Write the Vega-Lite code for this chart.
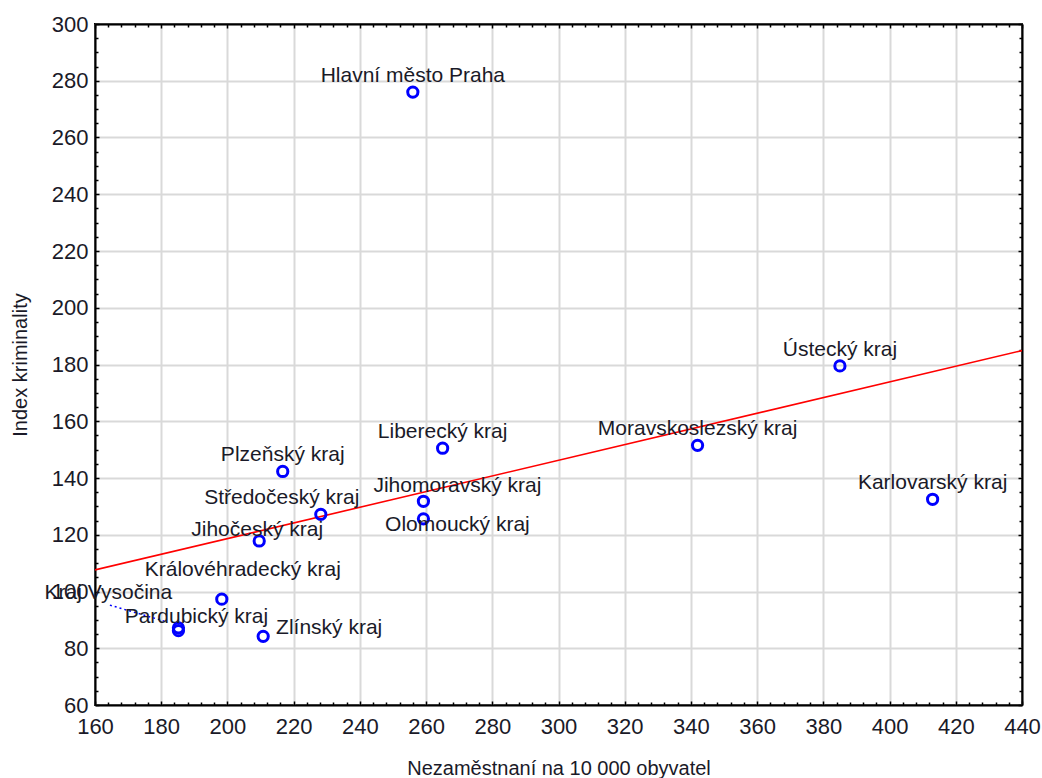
{
  "$schema": "https://vega.github.io/schema/vega-lite/v6.json",
  "width": 927,
  "height": 681,
  "autosize": {"type": "none"},
  "padding": {"left": 95, "top": 24, "right": 20, "bottom": 73},
  "background": "white",
  "config": {
    "font": "Liberation Sans",
    "view": {"stroke": "black", "strokeWidth": 2},
    "axis": {
      "domainColor": "black",
      "domainWidth": 2,
      "tickColor": "black",
      "tickWidth": 1.5,
      "labelFont": "Liberation Sans",
      "labelFontSize": 22,
      "labelColor": "#1a1a28",
      "labelFlush": false,
      "labelOverlap": false,
      "titleFont": "Liberation Sans",
      "titleFontSize": 20,
      "titleFontWeight": "normal",
      "titleColor": "#1a1a28",
      "gridColor": "#d9d9d9",
      "gridWidth": 2
    }
  },
  "datasets": {
    "regions": [
      {"kraj": "Hlavní město Praha", "nezam": 256, "index": 276},
      {"kraj": "Ústecký kraj", "nezam": 385, "index": 179.5},
      {"kraj": "Moravskoslezský kraj", "nezam": 342, "index": 151.5},
      {"kraj": "Karlovarský kraj", "nezam": 413, "index": 132.5},
      {"kraj": "Liberecký kraj", "nezam": 265, "index": 150.5},
      {"kraj": "Plzeňský kraj", "nezam": 216.7, "index": 142.3},
      {"kraj": "Středočeský kraj", "nezam": 228.2, "index": 127.2},
      {"kraj": "Jihomoravský kraj", "nezam": 259.2, "index": 131.8},
      {"kraj": "Olomoucký kraj", "nezam": 259.2, "index": 125.6},
      {"kraj": "Jihočeský kraj", "nezam": 209.6, "index": 117.8},
      {"kraj": "Královéhradecký kraj", "nezam": 198.3, "index": 97.3},
      {"kraj": "Kraj Vysočina", "nezam": 185.2, "index": 87.2},
      {"kraj": "Pardubický kraj", "nezam": 185.2, "index": 86.2},
      {"kraj": "Zlínský kraj", "nezam": 210.8, "index": 84.2}
    ],
    "fit": [
      {"nezam": 160, "index": 107.6},
      {"nezam": 440, "index": 184.9}
    ],
    "leader": [
      {"x1": 164.5, "y1": 95.2, "x2": 181.7, "y2": 89.3}
    ]
  },
  "resolve": {"axis": {"x": "independent", "y": "independent"}},
  "layer": [
    {
      "data": {"name": "fit"},
      "mark": {"type": "line", "color": "#ff0000", "strokeWidth": 1.6, "clip": true},
      "encoding": {
        "x": {
          "field": "nezam", "type": "quantitative",
          "scale": {"domain": [160, 440], "nice": false, "zero": false},
          "axis": {
            "orient": "top", "title": null, "labels": false, "grid": false,
            "values": [160,164,168,172,176,180,184,188,192,196,200,204,208,212,216,220,224,228,232,236,240,244,248,252,256,260,264,268,272,276,280,284,288,292,296,300,304,308,312,316,320,324,328,332,336,340,344,348,352,356,360,364,368,372,376,380,384,388,392,396,400,404,408,412,416,420,424,428,432,436,440],
            "tickSize": {"condition": {"test": "datum.value % 20 === 0", "value": -4}, "value": -3}
          }
        },
        "y": {
          "field": "index", "type": "quantitative",
          "scale": {"domain": [60, 300], "nice": false, "zero": false},
          "axis": {
            "orient": "right", "title": null, "labels": false, "grid": false,
            "values": [60,65,70,75,80,85,90,95,100,105,110,115,120,125,130,135,140,145,150,155,160,165,170,175,180,185,190,195,200,205,210,215,220,225,230,235,240,245,250,255,260,265,270,275,280,285,290,295,300],
            "tickSize": {"condition": {"test": "datum.value % 20 === 0", "value": -4}, "value": -3}
          }
        }
      }
    },
    {
      "data": {"name": "regions"},
      "mark": {"type": "point", "filled": false, "color": "#0000ff", "strokeWidth": 3, "size": 105, "opacity": 1},
      "encoding": {
        "x": {
          "field": "nezam", "type": "quantitative",
          "scale": {"domain": [160, 440], "nice": false, "zero": false},
          "axis": {
            "orient": "bottom", "title": "Nezaměstnaní na 10 000 obyvatel", "titlePadding": 20,
            "values": [160,164,168,172,176,180,184,188,192,196,200,204,208,212,216,220,224,228,232,236,240,244,248,252,256,260,264,268,272,276,280,284,288,292,296,300,304,308,312,316,320,324,328,332,336,340,344,348,352,356,360,364,368,372,376,380,384,388,392,396,400,404,408,412,416,420,424,428,432,436,440],
            "labelExpr": "datum.value % 20 === 0 ? datum.label : ''",
            "labelPadding": 15,
            "tickSize": {"condition": {"test": "datum.value % 20 === 0", "value": -4}, "value": -3},
            "grid": true,
            "gridOpacity": {"condition": {"test": "datum.value % 20 === 0", "value": 1}, "value": 0}
          }
        },
        "y": {
          "field": "index", "type": "quantitative",
          "scale": {"domain": [60, 300], "nice": false, "zero": false},
          "axis": {
            "orient": "left", "title": "Index kriminality", "titlePadding": 21,
            "values": [60,65,70,75,80,85,90,95,100,105,110,115,120,125,130,135,140,145,150,155,160,165,170,175,180,185,190,195,200,205,210,215,220,225,230,235,240,245,250,255,260,265,270,275,280,285,290,295,300],
            "labelExpr": "datum.value % 20 === 0 ? datum.label : ''",
            "labelPadding": 11,
            "tickSize": {"condition": {"test": "datum.value % 20 === 0", "value": -4}, "value": -3},
            "grid": true,
            "gridOpacity": {"condition": {"test": "datum.value % 20 === 0", "value": 1}, "value": 0}
          }
        }
      }
    },
    {
      "data": {"name": "leader"},
      "mark": {"type": "rule", "color": "#0000ff", "strokeWidth": 1.5, "strokeDash": [2, 3]},
      "encoding": {
        "x": {"field": "x1", "type": "quantitative", "axis": null},
        "y": {"field": "y1", "type": "quantitative", "axis": null},
        "x2": {"field": "x2"},
        "y2": {"field": "y2"}
      }
    },
    {
      "data": {"name": "regions"},
      "transform": [{"filter": {"field": "kraj", "oneOf": ["Hlavní město Praha", "Ústecký kraj", "Moravskoslezský kraj", "Karlovarský kraj", "Liberecký kraj", "Plzeňský kraj"]}}],
      "mark": {"type": "text", "fontSize": 21, "color": "#1a1a28", "align": "center", "baseline": "middle", "dy": -16},
      "encoding": {
        "x": {"field": "nezam", "type": "quantitative", "axis": null},
        "y": {"field": "index", "type": "quantitative", "axis": null},
        "text": {"field": "kraj"}
      }
    },
    {
      "data": {"name": "regions"},
      "transform": [{"filter": {"field": "kraj", "equal": "Jihočeský kraj"}}],
      "mark": {"type": "text", "fontSize": 21, "color": "#1a1a28", "align": "center", "baseline": "middle", "dx": -2, "dy": -11},
      "encoding": {
        "x": {"field": "nezam", "type": "quantitative", "axis": null},
        "y": {"field": "index", "type": "quantitative", "axis": null},
        "text": {"field": "kraj"}
      }
    },
    {
      "data": {"name": "regions"},
      "transform": [{"filter": {"field": "kraj", "equal": "Středočeský kraj"}}],
      "mark": {"type": "text", "fontSize": 21, "color": "#1a1a28", "align": "center", "baseline": "middle", "dx": -39, "dy": -16},
      "encoding": {
        "x": {"field": "nezam", "type": "quantitative", "axis": null},
        "y": {"field": "index", "type": "quantitative", "axis": null},
        "text": {"field": "kraj"}
      }
    },
    {
      "data": {"name": "regions"},
      "transform": [{"filter": {"field": "kraj", "equal": "Jihomoravský kraj"}}],
      "mark": {"type": "text", "fontSize": 21, "color": "#1a1a28", "align": "center", "baseline": "middle", "dx": 34, "dy": -15},
      "encoding": {
        "x": {"field": "nezam", "type": "quantitative", "axis": null},
        "y": {"field": "index", "type": "quantitative", "axis": null},
        "text": {"field": "kraj"}
      }
    },
    {
      "data": {"name": "regions"},
      "transform": [{"filter": {"field": "kraj", "equal": "Olomoucký kraj"}}],
      "mark": {"type": "text", "fontSize": 21, "color": "#1a1a28", "align": "center", "baseline": "middle", "dx": 34, "dy": 6},
      "encoding": {
        "x": {"field": "nezam", "type": "quantitative", "axis": null},
        "y": {"field": "index", "type": "quantitative", "axis": null},
        "text": {"field": "kraj"}
      }
    },
    {
      "data": {"name": "regions"},
      "transform": [{"filter": {"field": "kraj", "equal": "Královéhradecký kraj"}}],
      "mark": {"type": "text", "fontSize": 21, "color": "#1a1a28", "align": "center", "baseline": "middle", "dx": 21, "dy": -29},
      "encoding": {
        "x": {"field": "nezam", "type": "quantitative", "axis": null},
        "y": {"field": "index", "type": "quantitative", "axis": null},
        "text": {"field": "kraj"}
      }
    },
    {
      "data": {"name": "regions"},
      "transform": [{"filter": {"field": "kraj", "equal": "Kraj Vysočina"}}],
      "mark": {"type": "text", "fontSize": 21, "color": "#1a1a28", "align": "center", "baseline": "middle", "dx": -70, "dy": -35},
      "encoding": {
        "x": {"field": "nezam", "type": "quantitative", "axis": null},
        "y": {"field": "index", "type": "quantitative", "axis": null},
        "text": {"field": "kraj"}
      }
    },
    {
      "data": {"name": "regions"},
      "transform": [{"filter": {"field": "kraj", "equal": "Pardubický kraj"}}],
      "mark": {"type": "text", "fontSize": 21, "color": "#1a1a28", "align": "center", "baseline": "middle", "dx": 18, "dy": -14},
      "encoding": {
        "x": {"field": "nezam", "type": "quantitative", "axis": null},
        "y": {"field": "index", "type": "quantitative", "axis": null},
        "text": {"field": "kraj"}
      }
    },
    {
      "data": {"name": "regions"},
      "transform": [{"filter": {"field": "kraj", "equal": "Zlínský kraj"}}],
      "mark": {"type": "text", "fontSize": 21, "color": "#1a1a28", "align": "center", "baseline": "middle", "dx": 66, "dy": -8},
      "encoding": {
        "x": {"field": "nezam", "type": "quantitative", "axis": null},
        "y": {"field": "index", "type": "quantitative", "axis": null},
        "text": {"field": "kraj"}
      }
    }
  ]
}
